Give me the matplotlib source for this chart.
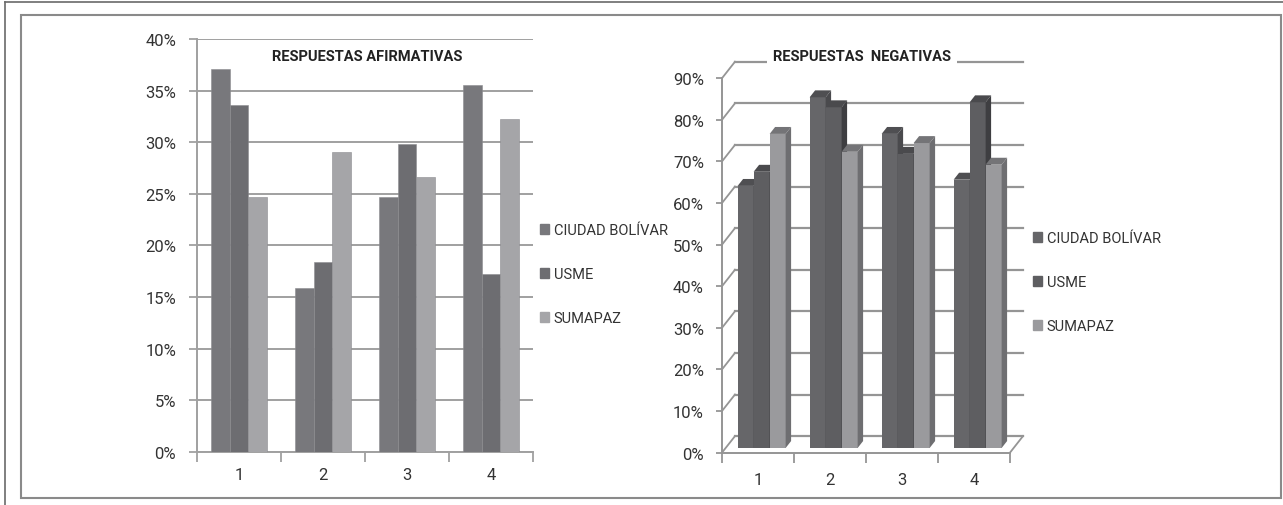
import numpy as np
import matplotlib.pyplot as plt
from matplotlib.patches import Rectangle, Polygon
from matplotlib.lines import Line2D

plt.rcParams['font.family'] = ['Roboto', 'DejaVu Sans']

# Data
categorias = ["1", "2", "3", "4"]
series = ["CIUDAD BOLÍVAR", "USME", "SUMAPAZ"]
afirmativas = {
    "CIUDAD BOLÍVAR": [37.1, 15.9, 24.7, 35.5],
    "USME": [33.6, 18.4, 29.8, 17.2],
    "SUMAPAZ": [24.7, 29.1, 26.6, 32.3],
}
negativas = {
    "CIUDAD BOLÍVAR": [63.0, 84.3, 75.5, 64.5],
    "USME": [66.4, 81.9, 70.7, 83.1],
    "SUMAPAZ": [75.5, 71.2, 73.3, 68.1],
}
y_ticks_afirm = [0, 5, 10, 15, 20, 25, 30, 35, 40]
y_ticks_neg = [0, 10, 20, 30, 40, 50, 60, 70, 80, 90]

colores_2d = ["#78787c", "#6d6d71", "#a5a5a8"]
colores_3d = ["#666669", "#5e5e61", "#9a9a9d"]
techo_3d = ["#4f4f52", "#4a4a4d", "#747477"]
lado_3d = ["#4a4a4d", "#3e3e41", "#6e6e71"]
gris = "#a0a0a0"
gris3d = "#959595"
texto = "#333333"
fs = 12

W, H = 1283, 506
fig = plt.figure(figsize=(W / 100, H / 100), dpi=100)

def fx(px):
    return px / W

def fy(py):
    return 1 - py / H

# marcos
fig.add_artist(Line2D([fx(5), fx(1283)], [fy(3), fy(3)], color="#6a6a6a", lw=1.2))
fig.add_artist(Line2D([fx(5), fx(5)], [fy(3), fy(506)], color="#6a6a6a", lw=1.2))
fig.add_artist(Rectangle((fx(21), fy(499)), fx(1281) - fx(21), fy(16) - fy(499),
                         fill=False, edgecolor="#8a8a8a", lw=1.5))

# ---------------- Respuestas afirmativas ----------------
ax1 = fig.add_axes([fx(197), fy(453), fx(533) - fx(197), fy(40) - fy(453)])
w = 1 / 4.5
x = np.arange(1, 5)
for j, s in enumerate(series):
    ax1.bar(x + (j - 1) * w, afirmativas[s], width=w, color=colores_2d[j],
            edgecolor="#8c8c90", linewidth=0.4, zorder=3)
ax1.set_xlim(0.5, 4.5)
ax1.set_ylim(0, 40)
ax1.set_yticks(y_ticks_afirm)
ax1.set_yticklabels([f"{t}%" for t in y_ticks_afirm], fontsize=fs, color=texto)
ax1.set_xticks(np.arange(0.5, 5, 1))
ax1.set_xticklabels([])
ax1.set_xticks(x, minor=True)
ax1.set_xticklabels(categorias, minor=True, fontsize=fs, color=texto)
ax1.tick_params(axis="x", which="major", length=7, color=gris, width=1.3)
ax1.tick_params(axis="x", which="minor", length=0, pad=11)
ax1.tick_params(axis="y", length=6, color=gris, width=1.3, pad=9)
ax1.grid(axis="y", color=gris, lw=1.4, zorder=0)
for sp in ["top", "right"]:
    ax1.spines[sp].set_visible(False)
for sp in ["left", "bottom"]:
    ax1.spines[sp].set_color(gris)
    ax1.spines[sp].set_linewidth(1.4)
ax1.set_axisbelow(True)

fig.text(fx(367), fy(57), "RESPUESTAS AFIRMATIVAS", ha="center", va="center",
         fontsize=10.5, fontweight="bold", color="#222222")

hs = [Rectangle((0, 0), 1, 1, color=c) for c in colores_2d]
fig.legend(hs, series, loc="center left", bbox_to_anchor=(fx(540), fy(275)),
           frameon=False, fontsize=10.5, labelspacing=2.05, handlelength=0.65,
           handleheight=0.7, handletextpad=0.3, borderpad=0, borderaxespad=0,
           labelcolor=texto)

# ---------------- Respuestas negativas (3D) ----------------
ax2 = fig.add_axes([fx(722), fy(453.6), fx(1010) - fx(722), fy(79.2) - fy(453.6)])
ax2.set_xlim(0, 4)
ax2.set_ylim(0, 90)
px_cat = 72.0
px_pct = 374.4 / 90
dxw, dyw = 13 / px_cat, 16.5 / px_pct      # profundidad de la pared
f0, fd = 0.28, 0.42                         # posicion y fondo de las barras

# pared del fondo
for t in y_ticks_neg:
    ax2.plot([dxw, 4 + dxw], [t + dyw, t + dyw], color=gris3d, lw=1.6, clip_on=False, zorder=1)
    ax2.plot([0, dxw], [t, t + dyw], color=gris3d, lw=1.3, clip_on=False, zorder=1)
# piso
ax2.plot([4, 4 + dxw], [0, dyw], color=gris3d, lw=1.3, clip_on=False, zorder=1)

bw = 1 / 4.5
ox, oy = f0 * dxw, f0 * dyw
ddx, ddy = fd * dxw, fd * dyw
for i in range(4):
    for j, s in enumerate(series):
        v = negativas[s][i]
        x0 = i + 0.75 * bw + j * bw + ox
        z = 3 + i * 3 + j
        ax2.add_patch(Rectangle((x0, oy), bw, v, facecolor=colores_3d[j],
                                edgecolor="none", zorder=z, clip_on=False))
        ax2.add_patch(Polygon([(x0, oy + v), (x0 + bw, oy + v), (x0 + bw + ddx, oy + v + ddy),
                               (x0 + ddx, oy + v + ddy)], closed=True,
                              facecolor=techo_3d[j], edgecolor="none", zorder=z, clip_on=False))
        ax2.add_patch(Polygon([(x0 + bw, oy), (x0 + bw + ddx, oy + ddy),
                               (x0 + bw + ddx, oy + v + ddy), (x0 + bw, oy + v)], closed=True,
                              facecolor=lado_3d[j], edgecolor="none", zorder=z, clip_on=False))

ax2.set_yticks(y_ticks_neg)
ax2.set_yticklabels([f"{t}%" for t in y_ticks_neg], fontsize=fs, color=texto)
ax2.set_xticks(np.arange(0, 5, 1))
ax2.set_xticklabels([])
ax2.set_xticks(np.arange(0.5, 4, 1), minor=True)
ax2.set_xticklabels(categorias, minor=True, fontsize=fs, color=texto)
ax2.tick_params(axis="x", which="major", length=7, color=gris3d, width=1.3)
ax2.tick_params(axis="x", which="minor", length=0, pad=14)
ax2.tick_params(axis="y", length=4, color=gris3d, width=1.3, pad=9)
for sp in ["top", "right"]:
    ax2.spines[sp].set_visible(False)
for sp in ["left", "bottom"]:
    ax2.spines[sp].set_color(gris3d)
    ax2.spines[sp].set_linewidth(1.4)
    ax2.spines[sp].set_zorder(30)
ax2.patch.set_visible(False)

fig.text(fx(862), fy(57), "RESPUESTAS  NEGATIVAS", ha="center", va="center",
         fontsize=10.5, fontweight="bold", color="#222222", zorder=10,
         bbox=dict(facecolor="white", edgecolor="none", pad=4))

hs2 = [Rectangle((0, 0), 1, 1, color=c) for c in colores_3d]
fig.legend(hs2, series, loc="center left", bbox_to_anchor=(fx(1033), fy(283)),
           frameon=False, fontsize=10.5, labelspacing=2.05, handlelength=0.65,
           handleheight=0.7, handletextpad=0.3, borderpad=0, borderaxespad=0,
           labelcolor=texto)

fig.savefig("out.png", dpi=100)
